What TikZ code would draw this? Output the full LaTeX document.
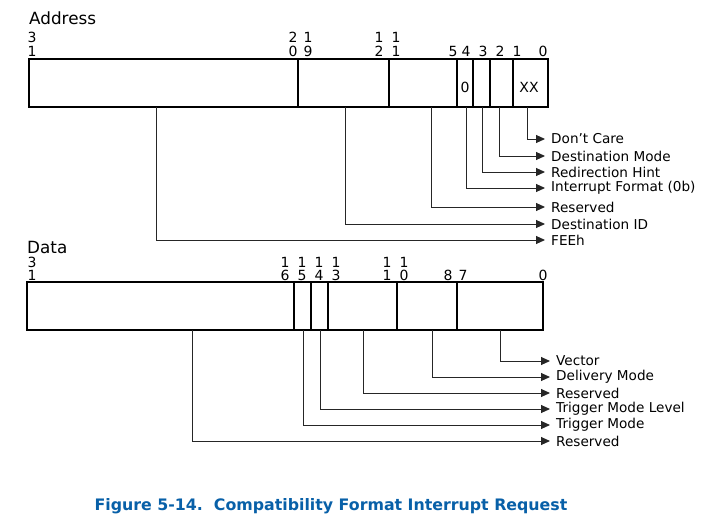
\documentclass[tikz,border=0pt]{standalone}
\usepackage{fontspec}
\setmainfont{DejaVu Sans}
\usetikzlibrary{arrows.meta}
\definecolor{figblue}{RGB}{8,96,168}
\tikzset{
  field/.style={draw=black, line width=1.6pt},
  bitno/.style={font=\fontsize{14}{15}\selectfont, inner sep=0pt},
  lead/.style={draw=black!85, line width=1pt, -{Triangle[length=9pt,width=8pt]}},
  desc/.style={anchor=west, inner xsep=6pt, inner ysep=0pt, font=\fontsize{13.6}{15}\selectfont},
  regname/.style={anchor=west, inner sep=0pt, font=\fontsize{16.8}{18}\selectfont},
}
\begin{document}
\begin{tikzpicture}[x=1pt,y=-1pt]
  \useasboundingbox (0,0) rectangle (706,522);
  % address register
  \node[regname] (addr) at (29,18) {Address};
  \draw[field] (29,59) rectangle (548,107);
  \foreach \x in {298,389,457,473,490,513}{
    \draw[field] (\x,59) -- (\x,107);
  }
  \foreach \x/\a/\b in {32/3/1, 293/2/0, 308/1/9, 379/1/2, 396/1/1}{
    \node[bitno](AT\x) at (\x,37) {\a};
    \node[bitno](AB\x) at (\x,51) {\b};
  }
  \foreach \x/\b in {453/5, 466/4, 483/3, 500/2, 517/1, 543/0}{
    \node[bitno](AB\x) at (\x,51) {\b};
  }
  \node[bitno](fmt) at (465,87) {0};
  \node[bitno](dc) at (529,87) {XX};
  \foreach \i/\x/\y/\t in {1/527/139/Don’t Care, 2/499/156/Destination Mode, 3/482/172/Redirection Hint,
      4/466/188/Interrupt Format (0b), 5/431/207/Reserved, 6/345/224/Destination ID, 7/156/240/FEEh}{
    \coordinate (AS\i) at (\x,107);
    \node[desc](AD\i) at (545,\y) {\t};
    \draw[lead](AS\i) |- (AD\i.west);
  }
  % data register
  \node[regname] (data) at (27,247) {Data};
  \draw[field] (27,282) rectangle (543,330);
  \foreach \x in {294,311,328,397,457}{
    \draw[field] (\x,282) -- (\x,330);
  }
  \foreach \x/\a/\b in {32/3/1, 285/1/6, 302/1/5, 319/1/4, 336/1/3, 387/1/1, 404/1/0}{
    \node[bitno](DT\x) at (\x,262) {\a};
    \node[bitno](DB\x) at (\x,275) {\b};
  }
  \foreach \x/\b in {448/8, 463/7, 543/0}{
    \node[bitno](DB\x) at (\x,275) {\b};
  }
  \foreach \i/\x/\y/\t in {1/500/361/Vector, 2/432/377/Delivery Mode, 3/363/393/Reserved,
      4/320/409/Trigger Mode Level, 5/303/425/Trigger Mode, 6/192/441/Reserved}{
    \coordinate (DS\i) at (\x,330);
    \node[desc](DD\i) at (550,\y) {\t};
    \draw[lead](DS\i) |- (DD\i.west);
  }
  % caption
  \node[font=\bfseries\fontsize{15.8}{18}\selectfont, text=figblue](cap) at (331,506)
    {Figure 5-14.\ \ Compatibility Format Interrupt Request};
\end{tikzpicture}
\end{document}
